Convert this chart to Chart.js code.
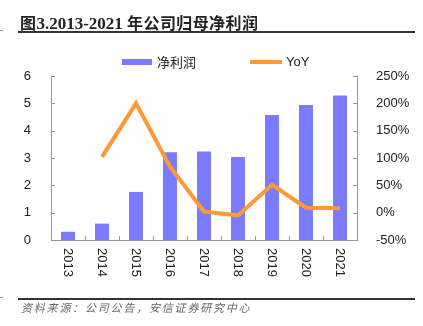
<!DOCTYPE html>
<html>
<head>
<meta charset="utf-8">
<script src="https://cdn.jsdelivr.net/npm/chart.js@4"></script>
<style>
  body { margin: 0; background: #fff; }
  #wrap { position: relative; width: 423px; height: 326px; overflow: hidden; }
  #myChart { position: absolute; left: 0; top: 0; }
  .title { position: absolute; left: 20px; top: 10px; font: bold 17px "Liberation Serif", "Noto Sans CJK SC"; color: #222; white-space: nowrap; }
  .title .cn { font-size: 16px; letter-spacing: 0.4px; }
  .rule { position: absolute; left: 18px; width: 397px; height: 2px; background: #333; }
  .mark { position: absolute; left: 0; width: 3px; height: 1px; background: #999; }
  .source { position: absolute; left: 21px; top: 299px; font: italic 11px "Noto Sans CJK SC"; letter-spacing: 1.8px; color: #666; white-space: nowrap; }
</style>
</head>
<body>
<div id="wrap">
  <canvas id="myChart" width="423" height="326"></canvas>
  <div class="title"><span class="cn">图</span>3.2013-2021 <span class="cn">年公司归母净利润</span></div>
  <div class="rule" style="top:31px"></div>
  <div class="rule" style="top:298px"></div>
  <div class="mark" style="top:30px"></div>
  <div class="mark" style="top:297px"></div>
  <div class="source">资料来源：公司公告，安信证券研究中心</div>
</div>
<script>
// Data
const years = ['2013', '2014', '2015', '2016', '2017', '2018', '2019', '2020', '2021'];
const netProfit = [0.30, 0.60, 1.76, 3.21, 3.24, 3.04, 4.57, 4.94, 5.29];
const yoy = [null, 102, 200, 84, 2, -5, 51, 9, 8];
const leftTicks = [0, 1, 2, 3, 4, 5, 6];
const rightTicks = [-50, 0, 50, 100, 150, 200, 250];

const BAR_COLOR = '#7b7bff';
const LINE_COLOR = '#ff9933';
const AXIS_COLOR = '#9a9a9a';
const TEXT_COLOR = '#222';
const TICK_FONT = { family: 'Liberation Sans', size: 13 };

// Plugin - inward tick marks, rotated year labels and legend
const extrasPlugin = {
    id: 'extras',
    afterDraw(chart) {
        const ctx = chart.ctx;
        const area = chart.chartArea;
        const x = chart.scales.x;
        const y = chart.scales.y;
        const y1 = chart.scales.y1;

        ctx.save();
        ctx.strokeStyle = AXIS_COLOR;
        ctx.lineWidth = 1;
        ctx.beginPath();
        leftTicks.forEach((v) => {
            const py = Math.round(y.getPixelForValue(v)) + 0.5;
            ctx.moveTo(area.left, py);
            ctx.lineTo(area.left + 4, py);
        });
        rightTicks.forEach((v) => {
            const py = Math.round(y1.getPixelForValue(v)) + 0.5;
            ctx.moveTo(area.right, py);
            ctx.lineTo(area.right - 4, py);
        });
        for (let i = 1; i < years.length; i++) {
            const px = Math.round(x.getPixelForValue(i - 0.5)) + 0.5;
            ctx.moveTo(px, area.bottom);
            ctx.lineTo(px, area.bottom - 4);
        }
        ctx.stroke();

        // Year labels, reading top to bottom
        ctx.fillStyle = TEXT_COLOR;
        ctx.font = '13px "Liberation Sans"';
        ctx.textAlign = 'left';
        ctx.textBaseline = 'middle';
        years.forEach((label, i) => {
            ctx.save();
            ctx.translate(x.getPixelForValue(i), area.bottom + 8);
            ctx.rotate(Math.PI / 2);
            ctx.fillText(label, 0, 0);
            ctx.restore();
        });

        // Legend
        const ds = chart.data.datasets;
        ctx.font = '13px "Noto Sans CJK SC"';
        ctx.fillStyle = BAR_COLOR;
        ctx.fillRect(122, 59, 30, 6);
        ctx.fillStyle = TEXT_COLOR;
        ctx.fillText(ds[0].label, 157, 62);
        ctx.fillStyle = LINE_COLOR;
        ctx.fillRect(250, 60, 32, 4);
        ctx.fillStyle = TEXT_COLOR;
        ctx.font = '13px "Liberation Sans"';
        ctx.fillText(ds[1].label, 286, 62);
        ctx.restore();
    }
};

const ctx1 = document.getElementById('myChart');

new Chart(ctx1, {
    type: 'bar',
    data: {
        labels: years,
        datasets: [{
            label: '净利润',
            data: netProfit,
            backgroundColor: BAR_COLOR,
            categoryPercentage: 1,
            barPercentage: 0.41,
            yAxisID: 'y',
            order: 2
        }, {
            type: 'line',
            label: 'YoY',
            data: yoy,
            borderColor: LINE_COLOR,
            borderWidth: 4,
            pointRadius: 0,
            tension: 0,
            yAxisID: 'y1',
            order: 1
        }]
    },
    options: {
        responsive: false,
        animation: false,
        layout: { padding: { top: 76, bottom: 86, left: 0, right: 0 } },
        plugins: {
            legend: { display: false },
            tooltip: { enabled: false }
        },
        scales: {
            x: {
                offset: true,
                grid: { display: false },
                border: { display: true, color: AXIS_COLOR },
                ticks: { display: false },
                afterFit: (s) => { s.height = 0; }
            },
            y: {
                position: 'left',
                min: 0,
                max: 6,
                grid: { display: false },
                border: { display: true, color: AXIS_COLOR },
                ticks: { stepSize: 1, padding: 12, color: TEXT_COLOR, font: TICK_FONT },
                afterFit: (s) => { s.width = 51; }
            },
            y1: {
                position: 'right',
                min: -50,
                max: 250,
                grid: { display: false },
                border: { display: true, color: AXIS_COLOR },
                ticks: {
                    stepSize: 50,
                    padding: 11,
                    color: TEXT_COLOR,
                    font: TICK_FONT,
                    callback: function (value) {
                        return value + '%';
                    }
                },
                afterFit: (s) => { s.width = 66; }
            }
        }
    },
    plugins: [extrasPlugin]
});
</script>
</body>
</html>
